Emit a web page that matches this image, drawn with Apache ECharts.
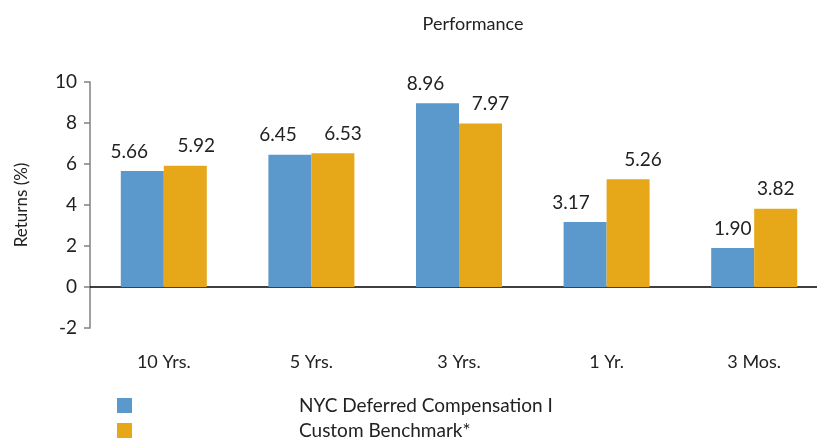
<!DOCTYPE html>
<html>
<head>
<meta charset="utf-8">
<script src="https://cdn.jsdelivr.net/npm/echarts@6/dist/echarts.min.js"></script>
<style>
  html, body { margin: 0; padding: 0; background: #fff; overflow: hidden; }
  #chart { width: 830px; height: 448px; }
</style>
</head>
<body>
<div id="chart"></div>
<script>
var periods = ['10 Yrs.', '5 Yrs.', '3 Yrs.', '1 Yr.', '3 Mos.'];
var fundName = 'NYC Deferred Compensation I';
var benchName = 'Custom Benchmark*';
var fundReturns = [5.66, 6.45, 8.96, 3.17, 1.90];
var benchReturns = [5.92, 6.53, 7.97, 5.26, 3.82];
var yMin = -2, yMax = 10, yStep = 2;

// horizontal nudge of the value labels (px), as in the original
var fundLabelShift = [-13, -12, -12, -14, 0];
var benchLabelShift = [11, 10, 10, 15, 0];

var font = 'Lato';
var chart = echarts.init(document.getElementById('chart'));

function withShift(values, shifts) {
    return values.map(function (v, i) {
        return { value: v, label: { offset: [shifts[i], 0] } };
    });
}

var labelStyle = {
    show: true,
    position: 'top',
    distance: 10,
    color: '#222',
    fontSize: 19,
    fontFamily: font,
    formatter: function (p) { return p.value.toFixed(2); }
};

chart.setOption({
    animation: false,
    title: {
        text: 'Performance',
        left: 468,
        top: 10,
        textAlign: 'center',
        textStyle: { fontSize: 18, fontWeight: 'normal', color: '#222', fontFamily: font }
    },
    legend: {
        orient: 'vertical',
        left: 112,
        top: 391,
        itemWidth: 15,
        itemHeight: 15,
        itemGap: 6,
        icon: 'rect',
        data: [fundName, benchName],
        textStyle: { fontSize: 19, color: '#222', fontFamily: font, padding: [0, 0, 0, 162] }
    },
    grid: { left: 90, width: 738, top: 82, bottom: 120 },
    xAxis: {
        type: 'category',
        data: periods,
        axisLine: { onZero: true, lineStyle: { color: '#000', width: 1.5 } },
        axisTick: { show: false },
        axisLabel: { margin: 25, fontSize: 18, color: '#222', fontFamily: font }
    },
    yAxis: {
        type: 'value',
        min: yMin,
        max: yMax,
        interval: yStep,
        name: 'Returns (%)',
        nameLocation: 'middle',
        nameGap: 60,
        nameTextStyle: { fontSize: 17, color: '#222', fontFamily: font },
        axisLine: { show: true, lineStyle: { color: '#808080', width: 1.5 } },
        axisTick: { show: true, length: 6, lineStyle: { color: '#808080', width: 1.5 } },
        axisLabel: { margin: 13, fontSize: 19, color: '#222', fontFamily: font },
        splitLine: { show: false }
    },
    series: [
        {
            name: fundName,
            type: 'bar',
            data: withShift(fundReturns, fundLabelShift),
            barWidth: 43,
            barGap: '0%',
            itemStyle: { color: '#5B98CB' },
            label: labelStyle
        },
        {
            name: benchName,
            type: 'bar',
            data: withShift(benchReturns, benchLabelShift),
            barWidth: 43,
            barGap: '0%',
            itemStyle: { color: '#E6A718' },
            label: labelStyle
        }
    ]
});
</script>
</body>
</html>
